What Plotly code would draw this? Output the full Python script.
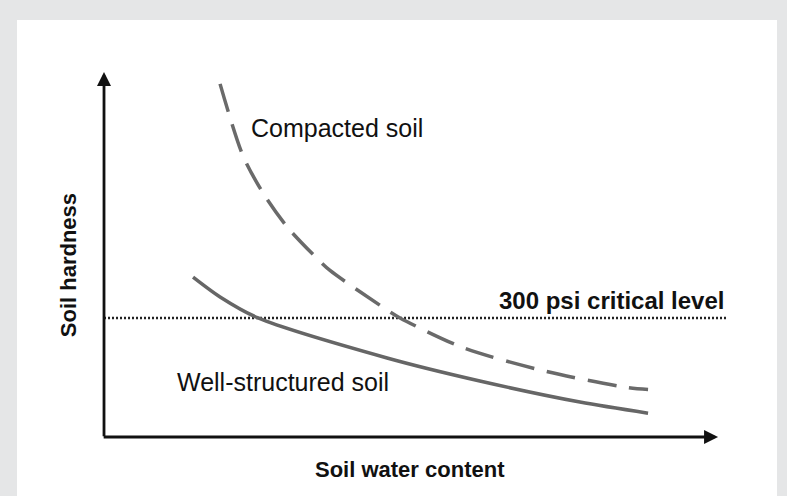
import plotly.graph_objects as go

# Data (arbitrary units: x = soil water content 0-100, y = soil hardness in psi)
compacted_x = [18.9, 22.6, 25.9, 29.8, 34.7, 36.8, 46.1, 48.2, 58.5, 72.1, 85.2, 88.6]
compacted_y = [890, 710, 615, 530, 450, 420, 320, 300, 225, 165, 125, 120]

well_x = [14.5, 18.9, 25.1, 46.1, 61.2, 77.5, 88.6]
well_y = [403, 353, 300, 199, 141, 88, 60]

critical_x = [0, 101.5]
critical_y = [300, 300]

x_title = "Soil water content"
y_title = "Soil hardness"
critical_label = "300 psi critical level"
compacted_label = "Compacted soil"
well_label = "Well-structured soil"

BOLD = "Liberation Sans, Arial, sans-serif"
REG = "Liberation Sans, Arial, sans-serif"
BG = "#e5e6e7"

fig = go.Figure()
fig.add_trace(go.Scatter(x=critical_x, y=critical_y, mode="lines",
                         line=dict(color="#222222", width=2.5, dash="2px,2px"),
                         hoverinfo="skip", showlegend=False))
fig.add_trace(go.Scatter(x=compacted_x, y=compacted_y, mode="lines",
                         line=dict(color="#6a6a6a", width=3.5, dash="29px,13px", shape="spline", smoothing=0.8),
                         showlegend=False))
fig.add_trace(go.Scatter(x=well_x, y=well_y, mode="lines",
                         line=dict(color="#666666", width=3.5, shape="spline", smoothing=0.8),
                         showlegend=False))

annotations = [
    # axes with arrowheads
    dict(x=100, y=0, ax=-0.3, ay=0, xref="x", yref="y", axref="x", ayref="y",
         showarrow=True, arrowhead=2, arrowsize=1, arrowwidth=2.8, arrowcolor="#111111", text=""),
    dict(x=0, y=920, ax=0, ay=-2, xref="x", yref="y", axref="x", ayref="y",
         showarrow=True, arrowhead=2, arrowsize=1, arrowwidth=2.8, arrowcolor="#111111", text=""),
    dict(x=49.9, y=-83, xref="x", yref="y", text=x_title, showarrow=False,
         font=dict(family=BOLD, size=22, color="#111111", weight="bold")),
    dict(x=-5.8, y=434, xref="x", yref="y", text=y_title, showarrow=False, textangle=-90,
         font=dict(family=BOLD, size=22, color="#111111", weight="bold")),
    dict(x=101.3, y=345, xref="x", yref="y", text=critical_label, showarrow=False,
         xanchor="right", font=dict(family=BOLD, size=24, color="#111111", weight="bold")),
    dict(x=23.6, y=780, xref="x", yref="y", text=compacted_label, showarrow=False,
         xanchor="left", font=dict(family=REG, size=25, color="#111111")),
    dict(x=11.6, y=138, xref="x", yref="y", text=well_label, showarrow=False,
         xanchor="left", font=dict(family=REG, size=25, color="#111111")),
]

fig.update_layout(
    width=787, height=496,
    margin=dict(l=17, r=10, t=20, b=0),
    paper_bgcolor=BG,
    plot_bgcolor="#ffffff",
    xaxis=dict(range=[-14.17, 109.6], visible=False, fixedrange=True),
    yaxis=dict(range=[-148.7, 1051], visible=False, fixedrange=True),
    annotations=annotations,
    showlegend=False,
)

fig.write_html(
    "out.html",
    config={"displayModeBar": False, "staticPlot": True},
    post_script="document.body.style.margin='0';document.body.style.background='%s';" % BG,
)
